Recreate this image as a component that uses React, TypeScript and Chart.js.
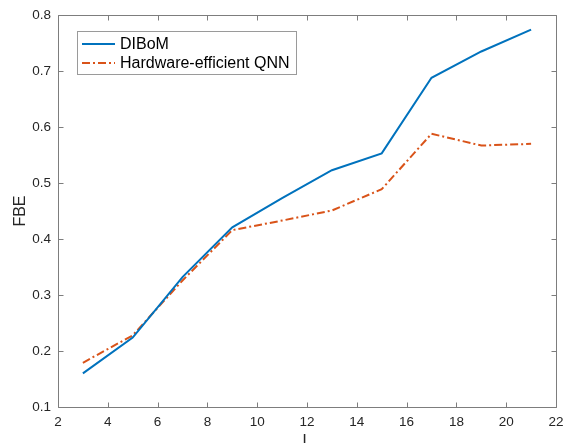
import React, { useEffect, useRef } from "react";
import { Chart, registerables } from "chart.js";

Chart.register(...registerables);

// Number of layers
const layers = [3, 5, 7, 9, 11, 13, 15, 17, 19, 21];
// FBE per model
const diBoM = [0.16, 0.224, 0.332, 0.421, 0.473, 0.523, 0.553, 0.688, 0.735, 0.774];
const hwQnn = [0.179, 0.228, 0.326, 0.416, 0.433, 0.451, 0.489, 0.588, 0.567, 0.57];

const seriesNames = ["DIBoM", "Hardware-efficient QNN"];
const xTitle = "L";
const yTitle = "FBE";

const FONT = '"Liberation Sans", Arial, Helvetica, sans-serif';
const TEXT = "#262626";
const AXIS = "#7d7d7d";
const BLUE = "#0072BD";
const ORANGE = "#D95319";
const DASH_DOT = [8, 3, 2, 3];

// MATLAB-style frame: full box, inward ticks on all four sides, titles and legend.
const framePlugin = {
  id: "matlabFrame",
  afterDraw(chart: any) {
    const { ctx, chartArea: a, scales } = chart;
    const xs = scales.x;
    const ys = scales.y;
    const L = Math.round(a.left) + 0.5;
    const R = Math.round(a.right) + 0.5;
    const T = Math.round(a.top) + 0.5;
    const B = Math.round(a.bottom) + 0.5;
    const tl = 5;
    ctx.save();
    ctx.strokeStyle = AXIS;
    ctx.lineWidth = 1;
    ctx.beginPath();
    ctx.rect(L, T, R - L, B - T);
    xs.ticks.forEach((t: any) => {
      const px = Math.round(xs.getPixelForValue(t.value)) + 0.5;
      ctx.moveTo(px, B);
      ctx.lineTo(px, B - tl);
      ctx.moveTo(px, T);
      ctx.lineTo(px, T + tl);
    });
    ys.ticks.forEach((t: any) => {
      const py = Math.round(ys.getPixelForValue(t.value)) + 0.5;
      ctx.moveTo(L, py);
      ctx.lineTo(L + tl, py);
      ctx.moveTo(R, py);
      ctx.lineTo(R - tl, py);
    });
    ctx.stroke();

    // axis titles
    ctx.fillStyle = TEXT;
    ctx.font = `16px ${FONT}`;
    ctx.textAlign = "center";
    ctx.textBaseline = "alphabetic";
    ctx.fillText(xTitle, (a.left + a.right) / 2, 445.5);
    ctx.textBaseline = "middle";
    ctx.save();
    ctx.translate(21, (a.top + a.bottom) / 2);
    ctx.rotate(-Math.PI / 2);
    ctx.fillText(yTitle, 0, 0);
    ctx.restore();

    // legend
    const bx = 77.5, by = 31.5, bw = 219, bh = 43;
    ctx.fillStyle = "#ffffff";
    ctx.fillRect(bx, by, bw, bh);
    ctx.strokeStyle = "#9a9a9a";
    ctx.strokeRect(bx, by, bw, bh);
    ctx.textAlign = "left";
    ctx.font = `16px ${FONT}`;
    chart.data.datasets.forEach((ds: any, i: number) => {
      const yRow = 44 + i * 19;
      ctx.strokeStyle = ds.borderColor;
      ctx.lineWidth = 2;
      ctx.setLineDash(ds.borderDash || []);
      ctx.beginPath();
      ctx.moveTo(82, yRow);
      ctx.lineTo(115, yRow);
      ctx.stroke();
      ctx.setLineDash([]);
      ctx.fillStyle = "#000000";
      ctx.fillText(ds.label, 120, yRow + 0.5);
    });
    ctx.restore();
  },
};

export default function App() {
  const ref = useRef<HTMLCanvasElement | null>(null);

  useEffect(() => {
    if (!ref.current) return;
    const chart = new Chart(ref.current, {
      type: "line",
      data: {
        datasets: [
          {
            label: seriesNames[0],
            data: layers.map((x, i) => ({ x, y: diBoM[i] })),
            borderColor: BLUE,
            backgroundColor: BLUE,
            borderWidth: 2,
            pointRadius: 0,
            tension: 0,
            fill: false,
          },
          {
            label: seriesNames[1],
            data: layers.map((x, i) => ({ x, y: hwQnn[i] })),
            borderColor: ORANGE,
            backgroundColor: ORANGE,
            borderWidth: 2,
            borderDash: DASH_DOT,
            pointRadius: 0,
            tension: 0,
            fill: false,
          },
        ],
      },
      options: {
        responsive: false,
        animation: false,
        layout: { padding: { left: 0, right: 18, top: 14, bottom: 0 } },
        plugins: {
          legend: { display: false },
          tooltip: { enabled: false },
        },
        scales: {
          x: {
            type: "linear",
            min: 2,
            max: 22,
            grid: { display: false, drawTicks: false },
            border: { display: false },
            ticks: {
              stepSize: 2,
              padding: 7,
              maxRotation: 0,
              color: TEXT,
              font: { family: FONT, size: 13.5 },
            },
            afterFit: (s: any) => {
              s.height = 36;
            },
          },
          y: {
            type: "linear",
            min: 0.1,
            max: 0.8,
            grid: { display: false, drawTicks: false },
            border: { display: false },
            ticks: {
              stepSize: 0.1,
              padding: 7,
              color: TEXT,
              font: { family: FONT, size: 13.5 },
              callback: (v: any) => Number(v).toFixed(1),
            },
            afterFit: (s: any) => {
              s.width = 58;
            },
          },
        },
      },
      plugins: [framePlugin],
    });
    return () => chart.destroy();
  }, []);

  return (
    <div style={{ position: "absolute", left: 0, top: 0, width: 574, height: 443, background: "#fff" }}>
      <canvas ref={ref} width={574} height={443} style={{ display: "block" }} />
    </div>
  );
}
